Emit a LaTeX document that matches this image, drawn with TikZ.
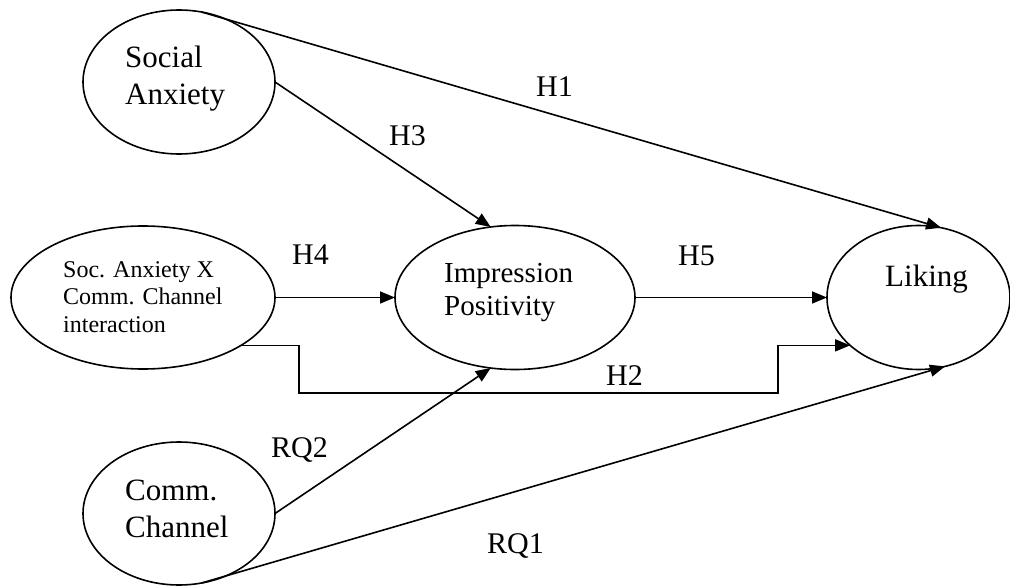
\documentclass[tikz,border=0pt]{standalone}
\usepackage{fontspec}
\setmainfont{Liberation Serif}
\usetikzlibrary{arrows.meta,shapes.geometric}

\tikzset{
  construct/.style={draw, ellipse, line width=1.6pt, inner sep=0pt, outer sep=0pt},
  bigtext/.style={inner sep=0pt, anchor=base west, font=\fontsize{31}{36}\selectfont},
  midtext/.style={inner sep=0pt, anchor=base west, font=\fontsize{29}{33}\selectfont},
  smalltext/.style={inner sep=0pt, anchor=base west, font=\fontsize{24}{28}\selectfont},
  pathlabel/.style={inner sep=0pt, anchor=base west, font=\fontsize{30}{34}\selectfont},
  link/.style={line width=1.6pt, -{Triangle[length=15pt,width=12pt]}},
}

\begin{document}
\begin{tikzpicture}[x=1pt, y=-1pt]
  \useasboundingbox (0,0) rectangle (1010,586);

  % latent constructs
  \node[construct, minimum width=192pt, minimum height=144pt] (sa)  at (179,82) {};
  \node[construct, minimum width=264pt, minimum height=143pt] (int) at (143,297.5) {};
  \node[construct, minimum width=240pt, minimum height=144pt] (imp) at (515,297.5) {};
  \node[construct, minimum width=183pt, minimum height=144pt] (lk)  at (918.5,297.5) {};
  \node[construct, minimum width=192pt, minimum height=143pt] (cc)  at (179,513.5) {};

  % construct names
  \node[bigtext] (sa1) at (125,68) {Social};
  \node[bigtext] (sa2) at (125,104) {Anxiety};
  \node[smalltext] (int1) at (63,277) {Soc. Anxiety X};
  \node[smalltext] (int2) at (63,304.5) {Comm. Channel};
  \node[smalltext] (int3) at (63,332) {interaction};
  \node[midtext] (imp1) at (444,282) {Impression};
  \node[midtext] (imp2) at (444,315) {Positivity};
  \node[bigtext] (lk1) at (885,286) {Liking};
  \node[bigtext] (cc1) at (125,500) {Comm.};
  \node[bigtext] (cc2) at (125,537) {Channel};

  % bends of the H2 path
  \coordinate (k1) at (299,393);
  \coordinate (k2) at (778,393);

  % hypothesised paths
  \draw[link] (sa.72) -- (lk.72);
  \draw[link] (sa.east) -- (imp.109);
  \draw[link] (int.east) -- (imp.west);
  \draw[link] (imp.east) -- (lk.west);
  \draw[link] (int.-26) -| (k1) -- (k2) |- (lk.215);
  \draw[link] (cc.east) -- (imp.251);
  \draw[link] (cc.-72) -- (lk.-69);

  % path labels
  \node[pathlabel] (h1) at (536,96) {H1};
  \node[pathlabel] (h3) at (389,145) {H3};
  \node[pathlabel] (h4) at (292,264) {H4};
  \node[pathlabel] (h5) at (678,265) {H5};
  \node[pathlabel] (h2) at (606,385) {H2};
  \node[pathlabel] (rq2) at (271,457) {RQ2};
  \node[pathlabel] (rq1) at (487,553) {RQ1};
\end{tikzpicture}
\end{document}
